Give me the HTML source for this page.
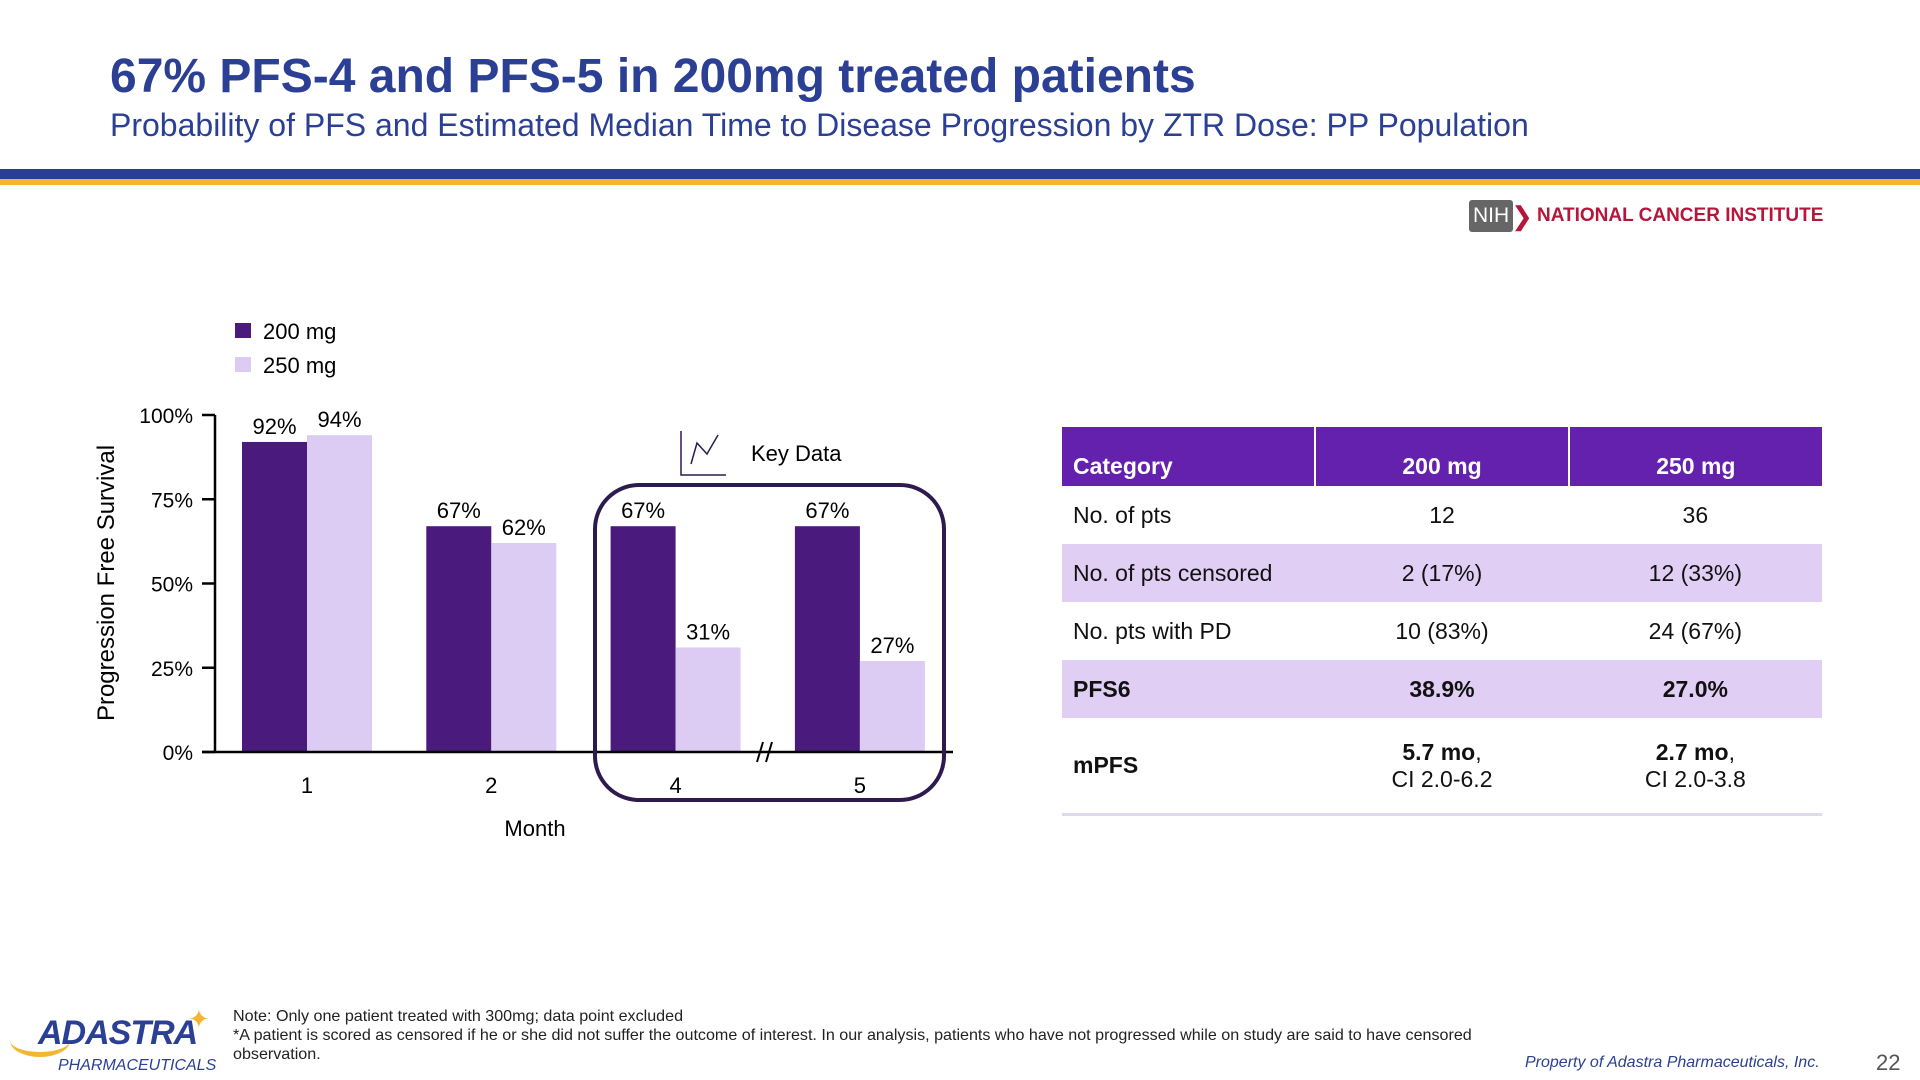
<!DOCTYPE html>
<html><head><meta charset="utf-8"><style>
body{margin:0;width:1920px;height:1080px;background:#fff;position:relative;overflow:hidden;font-family:"Liberation Sans",sans-serif}
.a{position:absolute;white-space:nowrap}
table{border-collapse:collapse;table-layout:fixed;position:absolute;left:1062px;top:427px;width:760px;font-size:23px;color:#111}
td,th{padding:0 11px}
th{background:#6421ad;color:#fff;height:53px;text-align:center;vertical-align:bottom;padding-bottom:6px;border-left:2px solid #fff}
th:first-child{text-align:left;border-left:none}
td{text-align:center;height:58px}
td:first-child{text-align:left}
tr.l td{background:#e1cef4}
</style></head><body>
<div class="a" style="left:110px;top:49px;font-size:48px;font-weight:bold;color:#2b3f95">67% PFS-4 and PFS-5 in 200mg treated patients</div>
<div class="a" style="left:110px;top:107px;font-size:32px;color:#2b3f95">Probability of PFS and Estimated Median Time to Disease Progression by ZTR Dose: PP Population</div>
<div class="a" style="left:0;top:169px;width:1920px;height:10px;background:#2a3f94"></div>
<div class="a" style="left:0;top:179px;width:1920px;height:6px;background:#f4b531"></div>
<div class="a" style="left:1469px;top:200px;height:32px;">
<span style="display:inline-block;background:#666;color:#fff;font-size:21px;padding:4px 4px;border-radius:3px;vertical-align:middle">NIH</span><span style="color:#b5173a;font-size:26px;vertical-align:middle;margin-left:-2px">❯</span><span style="color:#b5173a;font-size:19px;font-weight:bold;vertical-align:middle;margin-left:4px">NATIONAL CANCER INSTITUTE</span></div>

<svg id="chart" class="a" style="left:0;top:280px" width="1000" height="580" viewBox="0 280 1000 580"></svg>

<table>
<tr><th>Category</th><th>200 mg</th><th>250 mg</th></tr>
<tr><td>No. of pts</td><td>12</td><td>36</td></tr>
<tr class="l"><td>No. of pts censored</td><td>2 (17%)</td><td>12 (33%)</td></tr>
<tr><td>No. pts with PD</td><td>10 (83%)</td><td>24 (67%)</td></tr>
<tr class="l" style="font-weight:bold"><td>PFS6</td><td>38.9%</td><td>27.0%</td></tr>
<tr style="border-bottom:3px solid #e1d8ee"><td style="height:95px;font-weight:bold">mPFS</td><td style="height:95px"><b>5.7 mo</b>,<br>CI 2.0-6.2</td><td style="height:95px"><b>2.7 mo</b>,<br>CI 2.0-3.8</td></tr>
</table>

<div class="a" style="left:10px;top:1010px;width:210px;height:70px">
<div style="position:absolute;left:178px;top:-6px;color:#f4b531;font-size:26px">✦</div>
<div style="position:absolute;left:0;top:14px;width:60px;height:28px;border-radius:50%;border-bottom:5px solid #f4b531"></div>
<div style="position:absolute;left:28px;top:4px;font-size:34px;font-weight:bold;font-style:italic;color:#2b3f95;letter-spacing:-1px">ADASTRA</div>
<div style="position:absolute;left:48px;top:47px;font-size:16px;font-style:italic;color:#2b3f95">PHARMACEUTICALS</div></div>
<div class="a" style="left:233px;top:1007px;font-size:16.1px;color:#222;line-height:19px">Note: Only one patient treated with 300mg; data point excluded<br>*A patient is scored as censored if he or she did not suffer the outcome of interest. In our analysis, patients who have not progressed while on study are said to have censored<br>observation.</div>
<div class="a" style="left:1525px;top:1054px;font-size:16px;font-style:italic;color:#2b3f95">Property of Adastra Pharmaceuticals, Inc.</div>
<div class="a" style="left:1876px;top:1050px;font-size:22px;color:#555">22</div>

<script>
const months=["1","2","4","5"];
const dose200=[92,67,67,67];
const dose250=[94,62,31,27];
const yTicks=[0,25,50,75,100];
const NS="http://www.w3.org/2000/svg";
const svg=document.getElementById('chart');
const y0=752,y100=415,axX=215;
const y=v=>y0-(y0-y100)*v/100;
const cx=i=>307+i*184.3;
const bw=65;
function el(t,a,txt){const e=document.createElementNS(NS,t);for(const k in a)e.setAttribute(k,a[k]);if(txt!==undefined)e.textContent=txt;svg.appendChild(e);return e;}
let e=el('rect',{x:235,y:323,width:16,height:15,fill:'#4a1a7c'});


e=el('text',{x:263,y:339,'font-size':22,fill:'#000'},'200 mg');


e=el('rect',{x:235,y:357,width:16,height:15,fill:'#dccbf2'});


e=el('text',{x:263,y:373,'font-size':22,fill:'#000'},'250 mg');


e=el('line',{x1:axX,y1:y100,x2:axX,y2:y0,stroke:'#000','stroke-width':2.5});


yTicks.forEach(t=>{
 let l=el('line',{x1:202,y1:y(t),x2:axX,y2:y(t),stroke:'#000','stroke-width':2.5});
 
 
 let tx=el('text',{x:193,y:y(t)+8,'font-size':21,'text-anchor':'end'},t+'%');
 
 
});
e=el('text',{x:0,y:0,'font-size':24,'text-anchor':'middle',transform:'translate(114,583) rotate(-90)'},'Progression Free Survival');


months.forEach((m,i)=>{
 const c=cx(i);
 let b=el('rect',{x:c-bw,y:y(dose200[i]),width:bw,height:y0-y(dose200[i]),fill:'#4a1a7c'});
 
 
 b=el('rect',{x:c,y:y(dose250[i]),width:bw,height:y0-y(dose250[i]),fill:'#dccbf2'});
 
 
 let t=el('text',{x:c-bw/2,y:y(dose200[i])-8,'font-size':22,'text-anchor':'middle'},dose200[i]+'%');
 
 
 t=el('text',{x:c+bw/2,y:y(dose250[i])-8,'font-size':22,'text-anchor':'middle'},dose250[i]+'%');
 
 
 t=el('text',{x:c,y:793,'font-size':22,'text-anchor':'middle'},m);
 
 
});
e=el('line',{x1:202,y1:y0,x2:953,y2:y0,stroke:'#000','stroke-width':2.5});


e=el('path',{d:'M757 762 L763 742 M766 762 L772 742',stroke:'#000','stroke-width':2,fill:'none'});


e=el('text',{x:535,y:836,'font-size':22,'text-anchor':'middle'},'Month');


e=el('rect',{x:595,y:485,width:349,height:315,rx:44,fill:'none',stroke:'#2d1a4f','stroke-width':4});


e=el('path',{d:'M681 431 L681 475 L726 475 M691 464 L697 443 L707 454 L718 435',stroke:'#2d1a4f','stroke-width':1.5,fill:'none'});


e=el('text',{x:751,y:461,'font-size':22},'Key Data');


</script>
</body></html>
